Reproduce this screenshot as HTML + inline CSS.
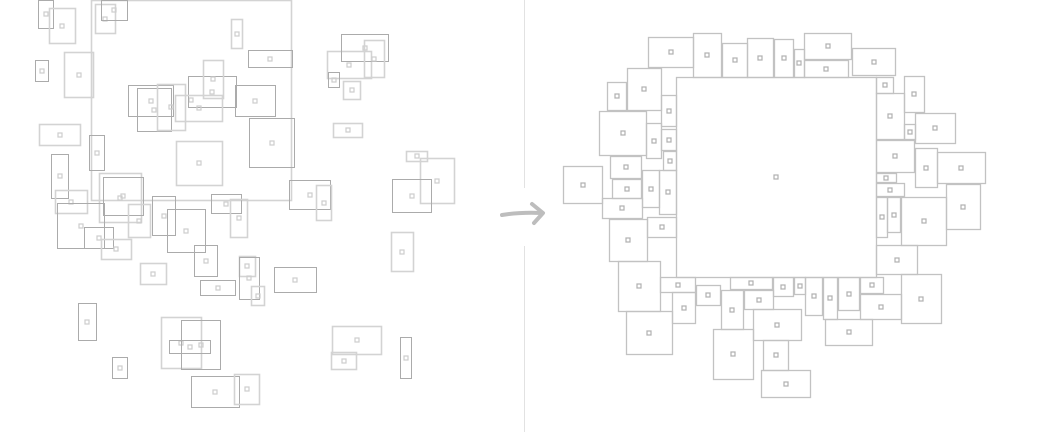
<!DOCTYPE html>
<html><head><meta charset="utf-8"><style>html,body{margin:0;padding:0;background:#fff}svg{display:block}</style></head>
<body>
<svg id="s" width="1041" height="432" xmlns="http://www.w3.org/2000/svg">
<line x1="524.5" y1="0" x2="524.5" y2="188" stroke="#e2e2e2" stroke-width="1"/>
<line x1="524.5" y1="246" x2="524.5" y2="432" stroke="#e2e2e2" stroke-width="1"/>
<path d="M502 215 Q520 212 542 213" stroke="#bdbdbd" stroke-width="4" fill="none" stroke-linecap="round"/>
<path d="M532 204 L543 213 L534 223" stroke="#bdbdbd" stroke-width="4" fill="none" stroke-linecap="round" stroke-linejoin="round"/>
</svg>
<script>
var D=[ // x1,y1,x2,y2,type (0 dark,1 light)
[91,0,291,200,1],[38,0,53,28,0],[49,8,75,43,1],[95,4,115,33,1],[101,0,127,20,0],[231,19,242,48,1],[248,50,292,67,0],[35,60,48,81,0],[64,52,93,97,1],[128,85,173,116,0],[137,88,171,131,0],[157,84,185,130,1],[188,76,236,107,0],[203,60,223,98,1],[175,95,222,121,1],[235,85,275,116,0],[249,118,294,167,0],[176,141,222,185,1],[39,124,80,145,1],[89,135,104,170,0],[51,154,68,198,0],[55,190,87,213,1],[99,173,141,222,1],[103,177,143,215,0],[57,203,104,248,0],[84,227,113,248,0],[101,239,131,259,1],[128,204,150,237,1],[152,196,175,235,0],[167,209,205,252,0],[211,194,241,213,0],[230,199,247,237,1],[289,180,330,209,0],[316,185,331,220,1],[327,51,371,78,1],[341,34,388,61,0],[364,40,384,77,1],[328,72,339,87,0],[343,81,360,99,1],[333,123,362,137,1],[406,151,427,161,1],[420,158,454,203,1],[392,179,431,212,0],[391,232,413,271,1],[140,263,166,284,1],[194,245,217,276,0],[200,280,235,295,0],[239,256,255,276,1],[239,257,259,299,0],[251,286,264,305,1],[274,267,316,292,0],[78,303,96,340,0],[112,357,127,378,0],[161,317,201,368,1],[181,320,220,369,0],[169,340,210,353,0],[191,376,239,407,0],[234,374,259,404,1],[332,326,381,354,1],[331,352,356,369,1],[400,337,411,378,0],
// right
[676,77,876,277,2],[648,37,693,67,2],[693,33,721,77,2],[722,43,747,77,2],[747,38,773,77,2],[774,39,793,77,2],[794,49,804,77,2],[804,33,851,59,2],[804,60,848,77,2],[852,48,895,75,2],
[627,68,661,110,2],[607,82,626,110,2],[599,111,646,155,2],[661,95,676,126,2],[646,123,661,158,2],[661,129,676,150,2],[663,151,676,170,2],[610,156,641,178,2],[612,179,641,198,2],[642,170,659,207,2],[659,170,676,214,2],[602,198,642,218,2],[563,166,602,203,2],[647,217,676,237,2],[609,219,647,261,2],
[618,261,660,311,2],[660,277,695,292,2],[626,311,672,354,2],[672,292,695,323,2],[696,285,720,305,2],[721,290,743,329,2],[744,290,773,309,2],[730,277,772,289,2],[773,277,793,296,2],[794,277,805,294,2],[753,309,801,340,2],[713,329,753,379,2],[763,340,788,370,2],[761,370,810,397,2],[805,277,822,315,2],[823,277,837,319,2],[838,277,859,310,2],[860,277,883,293,2],[860,294,901,319,2],[825,319,872,345,2],[901,274,941,323,2],
[876,77,893,93,2],[904,76,924,112,2],[876,93,904,139,2],[904,124,915,139,2],[915,113,955,143,2],[876,140,914,172,2],[915,148,937,187,2],[937,152,985,183,2],[876,173,896,182,2],[876,183,904,196,2],[876,197,887,237,2],[887,197,900,232,2],[901,197,946,245,2],[946,184,980,229,2],[876,245,917,274,2]
];
var s=document.getElementById('s'),h='';
var st=[['#ababab',1],['#d3d3d3',1.6],['#c2c2c2',1.3]];
D.forEach(function(d){var c=st[d[4]];
h+='<rect x="'+(d[0]+.5)+'" y="'+(d[1]+.5)+'" width="'+(d[2]-d[0])+'" height="'+(d[3]-d[1])+'" fill="none" stroke="'+c[0]+'" stroke-width="'+c[1]+'"/>';
var cx=Math.round((d[0]+d[2])/2),cy=Math.round((d[1]+d[3])/2);
h+='<rect x="'+(cx-2)+'" y="'+(cy-2)+'" width="4" height="4" fill="none" stroke="'+(d[4]==2?'#b0b0b0':'#cdcdcd')+'" stroke-width="1.2"/>';});
s.insertAdjacentHTML('beforeend',h);
</script>
</body></html>
